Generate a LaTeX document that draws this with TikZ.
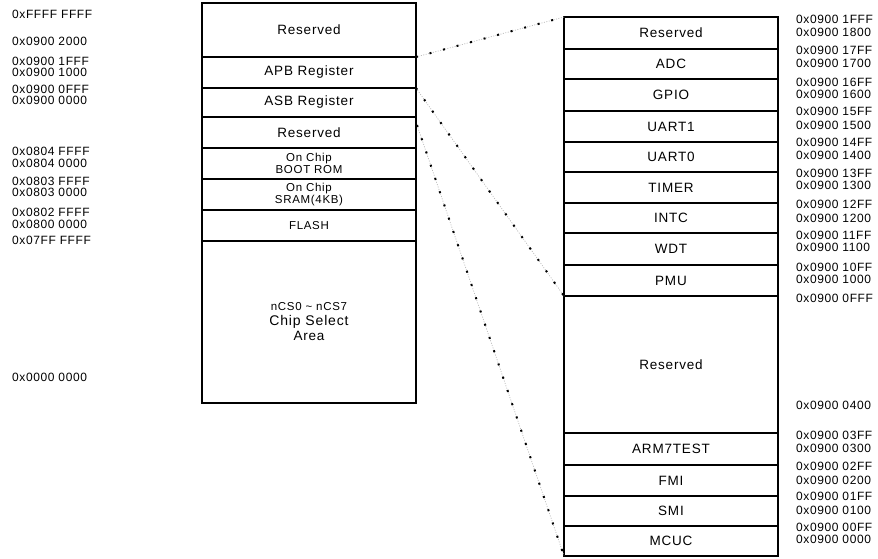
\documentclass[tikz,border=0pt]{standalone}
\usepackage{fontspec}
\setmainfont{Liberation Sans}
\newfontfamily\boxfont[LetterSpace=6]{Liberation Sans}
\newfontfamily\addrfont[LetterSpace=5]{Liberation Sans}
\begin{document}
\begin{tikzpicture}[x=1pt,y=-1pt]
\tikzset{
  cell/.style={draw=black, line width=1.2pt, minimum width=214pt, inner sep=0pt, outer sep=0pt,
    font=\boxfont\fontsize{13.5}{15}\selectfont, align=center},
  smallcell/.style={cell, font=\boxfont\fontsize{11.5}{12}\selectfont},
  addr/.style={anchor=west, inner sep=0pt, font=\addrfont\fontsize{12}{13}\selectfont, text=black},
  conn/.style={draw=gray!55, line width=0.7pt, dash pattern=on 1pt off 1.5pt,
    postaction={draw=black, line width=2pt, dash pattern=on 2pt off 12pt}}
}
\useasboundingbox (0,0) rectangle (878,558);
% left column
\node[cell, minimum height=54pt] (L1) at (309,30) {Reserved};
\node[cell, minimum height=31pt] (L2) at (309,72.5) {APB Register};
\node[cell, minimum height=29pt] (L3) at (309,102.5) {ASB Register};
\node[cell, minimum height=31pt] (L4) at (309,132.5) {Reserved};
\node[smallcell, minimum height=31pt] (L5) at (309,163.5) {On Chip\\BOOT ROM};
\node[smallcell, minimum height=31pt] (L6) at (309,194.5) {On Chip\\SRAM(4KB)};
\node[cell, minimum height=31pt, font=\boxfont\fontsize{11.5}{13}\selectfont] (L7) at (309,225.5) {FLASH};
\node[cell, minimum height=162pt] (L8) at (309,322) {\fontsize{11.5}{13}\selectfont nCS0 \textasciitilde{} nCS7\\\fontsize{14}{16}\selectfont Chip Select\\Area};
% right column
\node[cell, minimum height=32pt] (R1) at (671,33) {Reserved};
\node[cell, minimum height=30pt] (R2) at (671,64) {ADC};
\node[cell, minimum height=32pt] (R3) at (671,95) {GPIO};
\node[cell, minimum height=31pt] (R4) at (671,126.5) {UART1};
\node[cell, minimum height=30pt] (R5) at (671,157) {UART0};
\node[cell, minimum height=31pt] (R6) at (671,187.5) {TIMER};
\node[cell, minimum height=30pt] (R7) at (671,218) {INTC};
\node[cell, minimum height=32pt] (R8) at (671,249) {WDT};
\node[cell, minimum height=31pt] (R9) at (671,280.5) {PMU};
\node[cell, minimum height=137pt] (R10) at (671,364.5) {Reserved};
\node[cell, minimum height=32pt] (R11) at (671,449) {ARM7TEST};
\node[cell, minimum height=31pt] (R12) at (671,480.5) {FMI};
\node[cell, minimum height=30pt] (R13) at (671,511) {SMI};
\node[cell, minimum height=30pt] (R14) at (671,541) {MCUC};
% left addresses
\node[addr] (a1) at (12,14) {0xFFFF FFFF};
\node[addr] (a2) at (12,41) {0x0900 2000};
\node[addr] (a3) at (12,61) {0x0900 1FFF};
\node[addr] (a4) at (12,72) {0x0900 1000};
\node[addr] (a5) at (12,89) {0x0900 0FFF};
\node[addr] (a6) at (12,100) {0x0900 0000};
\node[addr] (a7) at (12,151) {0x0804 FFFF};
\node[addr] (a8) at (12,163) {0x0804 0000};
\node[addr] (a9) at (12,181) {0x0803 FFFF};
\node[addr] (a10) at (12,192) {0x0803 0000};
\node[addr] (a11) at (12,212) {0x0802 FFFF};
\node[addr] (a12) at (12,224) {0x0800 0000};
\node[addr] (a13) at (12,240) {0x07FF FFFF};
\node[addr] (a14) at (12,377) {0x0000 0000};
% right addresses
\node[addr] (b1) at (796,19) {0x0900 1FFF};
\node[addr] (b2) at (796,32) {0x0900 1800};
\node[addr] (b3) at (796,50) {0x0900 17FF};
\node[addr] (b4) at (796,63) {0x0900 1700};
\node[addr] (b5) at (796,82) {0x0900 16FF};
\node[addr] (b6) at (796,94) {0x0900 1600};
\node[addr] (b7) at (796,111) {0x0900 15FF};
\node[addr] (b8) at (796,125) {0x0900 1500};
\node[addr] (b9) at (796,142) {0x0900 14FF};
\node[addr] (b10) at (796,155) {0x0900 1400};
\node[addr] (b11) at (796,173) {0x0900 13FF};
\node[addr] (b12) at (796,185) {0x0900 1300};
\node[addr] (b13) at (796,204) {0x0900 12FF};
\node[addr] (b14) at (796,218) {0x0900 1200};
\node[addr] (b15) at (796,235) {0x0900 11FF};
\node[addr] (b16) at (796,247) {0x0900 1100};
\node[addr] (b17) at (796,267) {0x0900 10FF};
\node[addr] (b18) at (796,279) {0x0900 1000};
\node[addr] (b19) at (796,298) {0x0900 0FFF};
\node[addr] (b20) at (796,405) {0x0900 0400};
\node[addr] (b21) at (796,435) {0x0900 03FF};
\node[addr] (b22) at (796,448) {0x0900 0300};
\node[addr] (b23) at (796,466) {0x0900 02FF};
\node[addr] (b24) at (796,480) {0x0900 0200};
\node[addr] (b25) at (796,496) {0x0900 01FF};
\node[addr] (b26) at (796,510) {0x0900 0100};
\node[addr] (b27) at (796,527) {0x0900 00FF};
\node[addr] (b28) at (796,539) {0x0900 0000};
% connectors
\coordinate (c3) at (417,125);
\draw[conn] (L1.south east) -- (R1.north west);
\draw[conn] (L3.north east) -- (R9.south west);
\draw[conn] (c3) -- (R14.south west);
\end{tikzpicture}
\end{document}
